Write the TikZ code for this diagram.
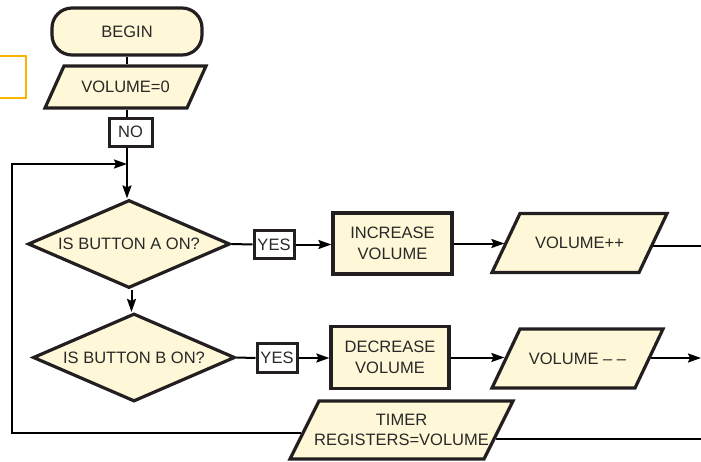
\documentclass[tikz,border=0pt]{standalone}
\usepackage{fontspec}
\setmainfont{Liberation Sans}
\usetikzlibrary{shapes.geometric,arrows.meta,calc}
\definecolor{boxfill}{RGB}{255,248,216}
\definecolor{edgec}{RGB}{35,31,32}
\definecolor{txtc}{RGB}{40,40,40}
\definecolor{goldc}{RGB}{247,181,0}
% #1 name, #2 cx, #3 cy, #4 body width, #5 height, #6 slant, #7 text
\newcommand\ioshape[7]{%
  \filldraw[ioline] ({#2-#4/2+#6/2},{#3-#5/2}) -- ({#2+#4/2+#6/2},{#3-#5/2})
     -- ({#2+#4/2-#6/2},{#3+#5/2}) -- ({#2-#4/2-#6/2},{#3+#5/2}) -- cycle;
  \node[iotext, minimum width=#4, minimum height=#5] (#1) at (#2,#3) {#7};}
\begin{document}
\begin{tikzpicture}[x=1pt,y=-1pt,
  txtstyle/.style={text=txtc, font=\fontsize{16.5}{20.5}\selectfont, align=center, inner sep=0pt},
  base/.style={txtstyle, draw=edgec, line width=3.2pt, fill=boxfill},
  term/.style={base, rounded corners=20pt, minimum width=150pt, minimum height=47pt},
  proc/.style={base, rectangle},
  ioline/.style={draw=edgec, fill=boxfill, line width=3.2pt, line join=miter},
  iotext/.style={txtstyle, rectangle, outer sep=1.6pt},
  decision/.style={base, diamond, aspect=2.3, minimum width=202pt, minimum height=88pt},
  lbl/.style={draw=edgec, line width=3pt, fill=white, text=txtc, font=\fontsize{16.5}{20}\selectfont, inner sep=0pt},
  conn/.style={draw=black, line width=2pt},
  arr/.style={conn, -{Stealth[length=13pt,width=9pt,inset=2pt]}}
]
\useasboundingbox (0,0) rectangle (701,461);
% partial gold frame at left
\draw[goldc, line width=2.6pt] (-10,56) rectangle (26,98);

\node[term] (begin) at (127,31.5) {BEGIN};
\ioshape{vol0}{125.5}{87}{142}{42}{19}{VOLUME=0}
\node[lbl, minimum width=43pt, minimum height=28pt] (no) at (130.5,132) {NO};
\node[decision] (diaA) at (129,244) {IS BUTTON A ON?};
\node[lbl, minimum width=40pt, minimum height=28pt] (yesA) at (274,244.5) {YES};
\node[proc, minimum width=119pt, minimum height=61pt] (inc) at (392.5,243.5) {INCREASE\\VOLUME};
\ioshape{vpp}{579.5}{243}{147}{59}{28}{VOLUME++}
\node[decision] (diaB) at (134,357.5) {IS BUTTON B ON?};
\node[lbl, minimum width=40pt, minimum height=29pt] (yesB) at (277,358) {YES};
\node[proc, minimum width=118pt, minimum height=62pt] (decr) at (390,357.5) {DECREASE\\VOLUME};
\ioshape{vmm}{577.5}{358.5}{143}{59}{28}{VOLUME – –}
\ioshape{tmr}{401.5}{430}{194}{58}{29}{TIMER\\REGISTERS=VOLUME}

\coordinate (entry) at (127,164);
\coordinate (loopS) at (12,433);
\coordinate (outA) at (701,246);
\coordinate (outB) at (701,358);
\coordinate (outT) at (701,439);

% main column
\draw[conn] (begin.south) -- (begin.south |- vol0.north);
\draw[conn] (begin.south |- vol0.south) -- (begin.south |- no.north);
\draw[arr] (begin.south |- no.south) -- (begin.south |- diaA.north);
\draw[arr] ($(diaA.south)+(2.5,0)$) -- ($(diaB.north)+(-2.5,0)$);
% row A
\draw[conn] (diaA.east) -- (yesA.west);
\draw[arr] (yesA.east) -- (yesA.east -| inc.west);
\draw[arr] (inc.east) -- (inc.east -| vpp.west);
\draw[conn] ($(vpp.east)+(-1.5,3)$) -- (outA);
% row B
\draw[conn] (diaB.east) -- (yesB.west);
\draw[arr] (yesB.east) -- (yesB.east -| decr.west);
\draw[arr] (decr.east) -- (decr.east -| vmm.west);
\draw[arr] (vmm.east |- outB) -- (outB);
% timer and loop
\draw[arr] ($(tmr.west)+(-1.5,3)$) -- (loopS) |- (entry);
\draw[conn] ($(tmr.east)+(-4.5,9)$) -- (outT);
\end{tikzpicture}
\end{document}
